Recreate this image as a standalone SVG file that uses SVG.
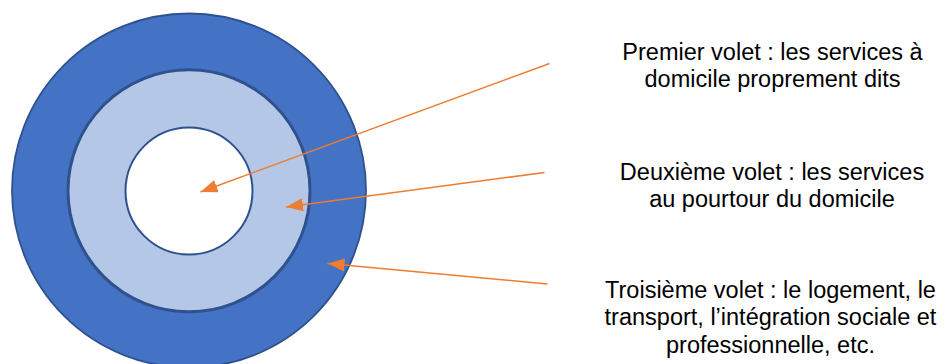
<svg xmlns="http://www.w3.org/2000/svg" width="945" height="364" viewBox="0 0 945 364">
  <style>
    .ring { stroke: #2F528F; }
    .label { font-family: "Liberation Sans", Arial, sans-serif; font-size: 23.5px; fill: #000000; text-anchor: middle; }
    .conn { stroke: #ED7D31; stroke-width: 1.5; fill: none; }
  </style>
  <defs>
    <marker id="arrow" markerUnits="userSpaceOnUse" markerWidth="17" markerHeight="13" viewBox="0 0 17 13" refX="17" refY="6.5" orient="auto">
      <path d="M0,0 L17,6.5 L0,13 Z" fill="#ED7D31"/>
    </marker>
  </defs>
  <rect width="945" height="364" fill="#FFFFFF"/>
  <g id="outer-ring">
    <circle class="ring" cx="189" cy="190.5" r="177" fill="#4472C4" stroke-width="1.8"/>
  </g>
  <g id="middle-ring">
    <circle class="ring" cx="189" cy="190.8" r="121" fill="#B4C7E7" stroke-width="3"/>
  </g>
  <g id="inner-circle">
    <circle class="ring" cx="189" cy="191" r="63.5" fill="#FFFFFF" stroke-width="2"/>
  </g>
  <g id="connectors">
    <line class="conn" x1="549.5" y1="63.5" x2="200.5" y2="192" marker-end="url(#arrow)"/>
    <line class="conn" x1="544.5" y1="172.5" x2="286" y2="207" marker-end="url(#arrow)"/>
    <line class="conn" x1="547.5" y1="284" x2="327.5" y2="263.5" marker-end="url(#arrow)"/>
  </g>
  <g id="label-premier">
    <text class="label" x="772.5" y="59.5">Premier volet : les services à</text>
    <text class="label" x="772.5" y="87">domicile proprement dits</text>
  </g>
  <g id="label-deuxieme">
    <text class="label" x="772" y="179.5">Deuxième volet : les services</text>
    <text class="label" x="772" y="207">au pourtour du domicile</text>
  </g>
  <g id="label-troisieme">
    <text class="label" x="770.5" y="297.5">Troisième volet : le logement, le</text>
    <text class="label" x="770.5" y="325">transport, l’intégration sociale et</text>
    <text class="label" x="770.5" y="352.5">professionnelle, etc.</text>
  </g>
</svg>
